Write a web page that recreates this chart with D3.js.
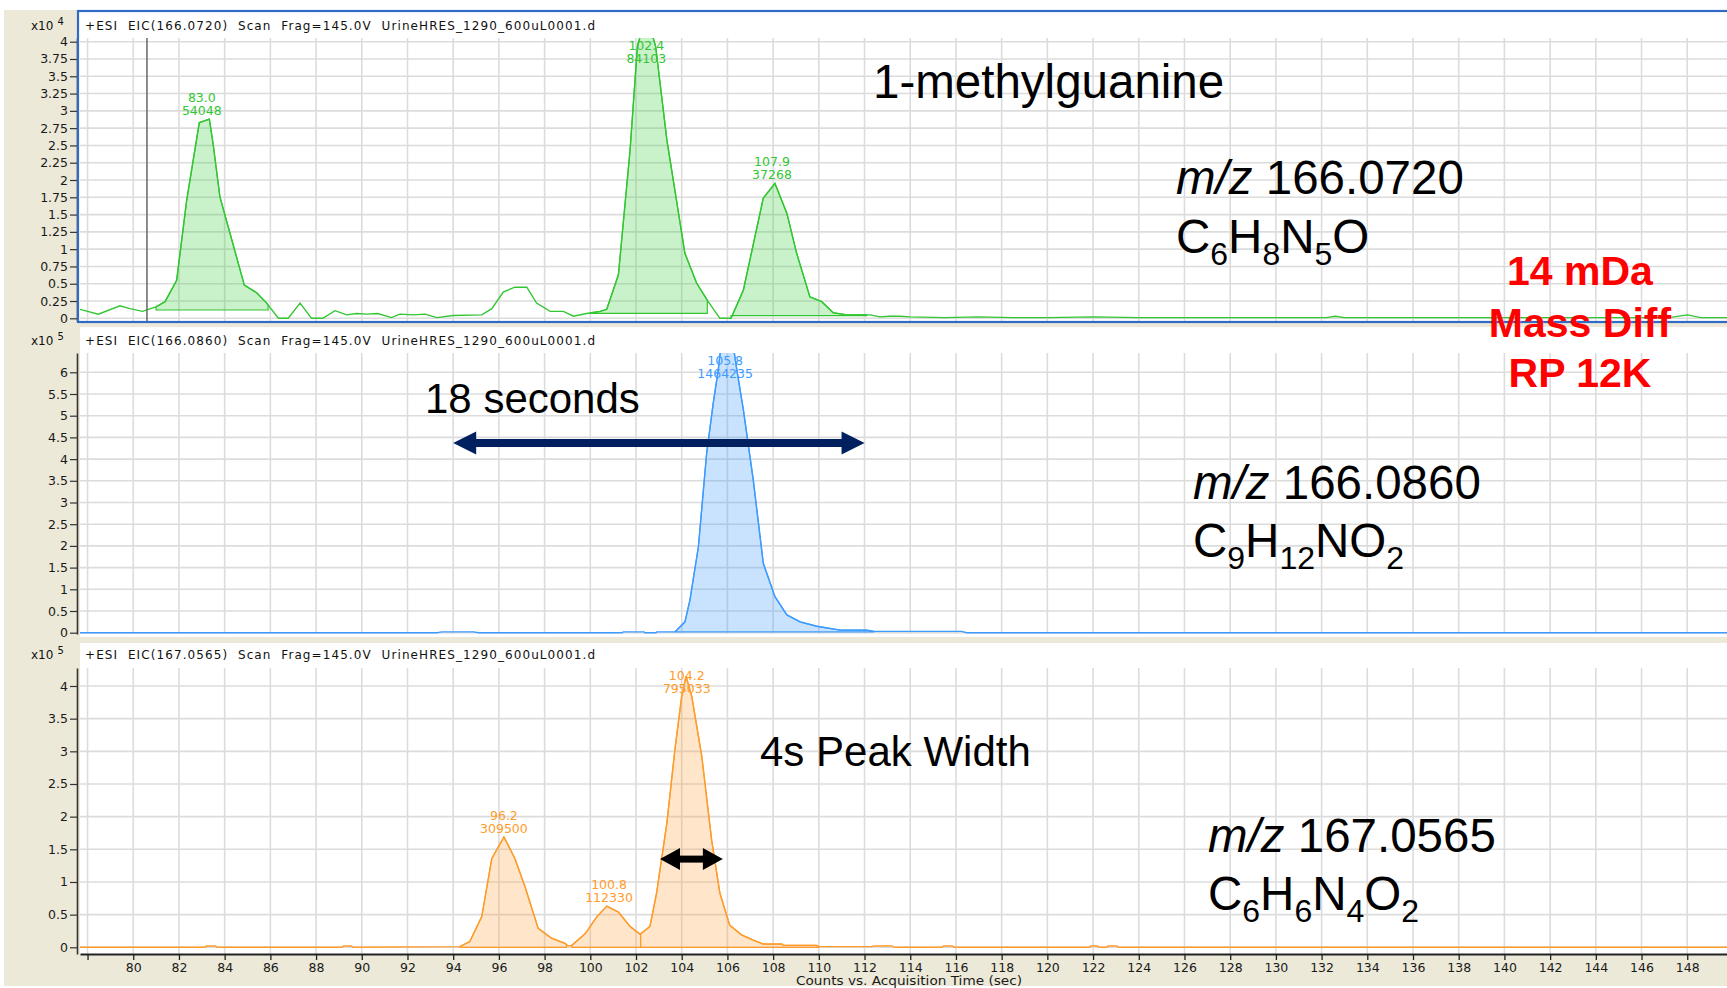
<!DOCTYPE html>
<html>
<head>
<meta charset="utf-8">
<script src="https://cdn.jsdelivr.net/npm/d3@7/dist/d3.min.js"></script>
<style>
    html, body { margin: 0; padding: 0; background: #fff; }
    svg { display: block; }
    text { font-family: "DejaVu Sans", Verdana, sans-serif; }
    .note { font-family: "Liberation Sans", Arial, sans-serif; fill: #000; }
</style>
</head>
<body>
<svg id="chart" width="1727" height="988"></svg>
<script>
// ---- data ----
const xTicks = [78, 80, 82, 84, 86, 88, 90, 92, 94, 96, 98, 100, 102, 104, 106, 108, 110, 112,
    114, 116, 118, 120, 122, 124, 126, 128, 130, 132, 134, 136, 138, 140, 142, 144, 146, 148];
const topTicks = [0, 0.25, 0.5, 0.75, 1, 1.25, 1.5, 1.75, 2, 2.25, 2.5, 2.75, 3, 3.25, 3.5, 3.75, 4];
const midTicks = [0, 0.5, 1, 1.5, 2, 2.5, 3, 3.5, 4, 4.5, 5, 5.5, 6];
const botTicks = [0, 0.5, 1, 1.5, 2, 2.5, 3, 3.5, 4];

// EIC 166.0720 (x10^4 counts)
const greenTime = [77.67, 78.47, 79.42, 79.85, 80.41, 81.02, 81.39, 81.9, 82.34, 82.89, 83.33, 83.5, 83.79,
    84.86, 85.4, 85.84, 86.35, 86.78, 87.3, 87.8, 88.3, 88.83, 89.34, 89.78, 90.2, 90.7, 91.3, 91.67,
    92.25, 92.77, 93.28, 94.0, 95.25, 95.69, 96.19, 96.7, 97.22, 97.65, 98.24, 98.82, 99.26, 99.84,
    100.43, 100.72, 101.23, 101.74, 102.06, 102.45, 102.86, 103.35, 104.14, 104.65, 105.16, 105.67,
    106.16, 106.7, 107.57, 108.08, 108.6, 109.03, 109.61, 110.13, 110.63, 111.22, 112.24, 112.67,
    113.1, 113.55, 114.0, 115.5, 117.0, 118.5, 120.0, 122.0, 124.0, 126.0, 128.0, 130.0, 132.2, 132.6,
    133.0, 135.0, 138.0, 141.0, 144.0, 147.2, 148.0, 148.6, 149.8];
const greenCounts = [0.13, 0.06, 0.18, 0.14, 0.10, 0.17, 0.24, 0.55, 1.71, 2.83, 2.88, 2.51, 1.76,
    0.48, 0.37, 0.22, 0, 0, 0.22, 0, 0, 0.11, 0.05, 0.07, 0.06, 0.07, 0.01, 0.06,
    0.05, 0.06, 0.01, 0.04, 0.05, 0.14, 0.38, 0.45, 0.45, 0.22, 0.10, 0.10, 0.03, 0.07,
    0.10, 0.13, 0.63, 2.43, 3.93, 4.4, 3.93, 2.58, 0.94, 0.51, 0.24, 0,
    0, 0.41, 1.74, 1.95, 1.52, 0.94, 0.31, 0.24, 0.08, 0.05, 0.05, 0.02,
    0.03, 0.03, 0.02, 0.01, 0.02, 0.01, 0.01, 0.02, 0.01, 0.01, 0.01, 0.01, 0.01, 0.03,
    0.01, 0.01, 0.01, 0.01, 0.01, 0.01, 0.05, 0.01, 0.01];
const greenPeaks = [
    { start: 81.0, end: 85.9, base: 0.12 },
    { start: 100.0, end: 105.12, base: 0.07 },
    { start: 106.16, end: 112.1, base: 0.04 }
];
const greenLabels = [
    { t: 83.0, rt: "83.0", area: "54048" },
    { t: 102.45, rt: "102.4", area: "84103" },
    { t: 107.95, rt: "107.9", area: "37268" }
];

// EIC 166.0860 (x10^5 counts)
const blueTime = [77.67, 93.3, 93.5, 94.9, 95.1, 101.4, 101.44, 102.35, 102.39, 102.88, 102.91, 103.71,
    104.14, 104.36, 104.73, 105.09, 105.38, 105.6, 105.95, 106.41, 106.7, 107.13, 107.57, 108.08,
    108.6, 109.18, 109.9, 110.93, 112.1, 112.39, 116.25, 116.47, 149.8];
const blueCounts = [0, 0, 0.02, 0.02, 0, 0, 0.02, 0.02, 0, 0, 0.02, 0.02,
    0.25, 0.75, 1.98, 4.13, 5.29, 6.06, 7.7, 6.06, 5.13, 3.52, 1.6, 0.83,
    0.41, 0.25, 0.15, 0.06, 0.06, 0.03, 0.03, 0, 0];
const bluePeaks = [{ start: 103.7, end: 112.4, base: 0.02 }];
const blueLabels = [{ t: 105.9, rt: "105.8", area: "1464235" }];

// EIC 167.0565 (x10^5 counts)
const orangeTime = [77.67, 83.15, 83.2, 83.6, 83.65, 89.15, 89.2, 89.55, 89.6, 94.29, 94.73, 95.25, 95.69,
    96.22, 96.7, 97.14, 97.72, 98.3, 98.89, 99.04, 99.19, 99.78, 100.29, 100.72, 101.23, 101.74,
    102.18, 102.61, 102.9, 103.35, 103.7, 104.0, 104.19, 104.44, 104.88, 105.31, 105.67, 106.1,
    106.62, 107.13, 107.57, 108.38, 108.45, 109.9, 110.0, 112.3, 112.4, 113.2, 113.3, 115.4, 115.45,
    115.85, 115.9, 121.85, 121.9, 122.2, 122.25, 122.6, 122.65, 123.05, 123.1, 149.8];
const orangeCounts = [0, 0, 0.02, 0.02, 0, 0, 0.02, 0.02, 0, 0.01, 0.09, 0.47, 1.36,
    1.69, 1.36, 0.93, 0.29, 0.14, 0.06, 0.02, 0.03, 0.21, 0.47, 0.63, 0.54, 0.32,
    0.2, 0.32, 0.83, 1.9, 3.02, 3.84, 4.15, 3.84, 2.92, 1.64, 0.83, 0.34,
    0.19, 0.11, 0.05, 0.05, 0.03, 0.03, 0.01, 0.01, 0.02, 0.02, 0, 0, 0.02,
    0.02, 0, 0, 0.02, 0.02, 0, 0, 0.02, 0.02, 0, 0];
const orangePeaks = [
    { start: 94.3, end: 98.96, base: 0 },
    { start: 99.18, end: 102.2, base: 0 },
    { start: 102.2, end: 110.0, base: 0 }
];
const orangeLabels = [
    { t: 96.22, rt: "96.2", area: "309500" },
    { t: 100.82, rt: "100.8", area: "112330" },
    { t: 104.22, rt: "104.2", area: "795033" }
];

const cursorTime = 80.6;

// ---- drawing ----
const svg = d3.select("#chart");
const W = 1727, H = 988;

svg.append("rect").attr("width", W).attr("height", H).attr("fill", "#fff");
svg.append("rect").attr("x", 4).attr("y", 10).attr("width", W - 4).attr("height", 976).attr("fill", "#ece9d8");

const x = d3.scaleLinear().domain([77.67, 149.74]).range([80, 1727]);

const panels = [
    {
        id: "p1", bgY: 11, bgH: 311, plotTop: 38, plotBottom: 321, zeroY: 318.3, refVal: 4, refY: 41.7,
        ticks: topTicks, exp: "4", titleY: 30,
        title: "+ESI  EIC(166.0720)  Scan  Frag=145.0V  UrineHRES_1290_600uL0001.d",
        time: greenTime, vals: greenCounts, peaks: greenPeaks, labels: greenLabels,
        line: "#33c633", fill: "#3fcf3f"
    },
    {
        id: "p2", bgY: 327, bgH: 310, plotTop: 353, plotBottom: 634, zeroY: 632.7, refVal: 6, refY: 372.3,
        ticks: midTicks, exp: "5", titleY: 345,
        title: "+ESI  EIC(166.0860)  Scan  Frag=145.0V  UrineHRES_1290_600uL0001.d",
        time: blueTime, vals: blueCounts, peaks: bluePeaks, labels: blueLabels,
        line: "#3d9bff", fill: "#3d9bff"
    },
    {
        id: "p3", bgY: 643, bgH: 311, plotTop: 668, plotBottom: 954, zeroY: 947.3, refVal: 4, refY: 686,
        ticks: botTicks, exp: "5", titleY: 659,
        title: "+ESI  EIC(167.0565)  Scan  Frag=145.0V  UrineHRES_1290_600uL0001.d",
        time: orangeTime, vals: orangeCounts, peaks: orangePeaks, labels: orangeLabels,
        line: "#ff9b2a", fill: "#ffa040"
    }
];

function interp(ts, vs, t) {
    const i = d3.bisectLeft(ts, t);
    if (i <= 0) return vs[0];
    if (i >= ts.length) return vs[vs.length - 1];
    return vs[i - 1] + (vs[i] - vs[i - 1]) * (t - ts[i - 1]) / (ts[i] - ts[i - 1]);
}

function sliceTrace(ts, vs, a, b) {
    const pts = [[a, interp(ts, vs, a)]];
    ts.forEach((t, i) => { if (t > a && t < b) pts.push([t, vs[i]]); });
    pts.push([b, interp(ts, vs, b)]);
    return pts;
}

panels.forEach(p => {
    const y = d3.scaleLinear().domain([0, p.refVal]).range([p.zeroY, p.refY]);
    y.domain([y.invert(p.plotBottom), y.invert(p.plotTop)]).range([p.plotBottom, p.plotTop]);
    p.y = y;

    const g = svg.append("g").attr("class", p.id);

    g.append("rect")
        .attr("x", p.id === "p1" ? 78 : 80).attr("y", p.bgY)
        .attr("width", W).attr("height", p.bgH)
        .attr("fill", "#fff");

    g.append("clipPath").attr("id", "clip-" + p.id)
        .append("rect")
        .attr("x", 80).attr("y", p.plotTop)
        .attr("width", W - 80).attr("height", p.plotBottom - p.plotTop);

    const plot = g.append("g").attr("clip-path", `url(#clip-${p.id})`);

    // grid
    plot.append("g").selectAll("line")
        .data(p.ticks)
        .join("line")
        .attr("x1", 80).attr("x2", W)
        .attr("y1", d => y(d)).attr("y2", d => y(d))
        .attr("stroke", "#dcdcdc").attr("stroke-width", 1.6);
    plot.append("g").selectAll("line")
        .data(xTicks)
        .join("line")
        .attr("x1", d => x(d)).attr("x2", d => x(d))
        .attr("y1", p.plotTop).attr("y2", p.plotBottom)
        .attr("stroke", "#dcdcdc").attr("stroke-width", 1.6);

    // integrated peak areas
    p.peaks.forEach(pk => {
        const pts = sliceTrace(p.time, p.vals, pk.start, pk.end);
        const area = d3.area()
            .x(d => x(d[0]))
            .y0(y(pk.base))
            .y1(d => y(d[1]));
        plot.append("path")
            .attr("d", area(pts))
            .attr("fill", p.fill).attr("fill-opacity", 0.28)
            .attr("stroke", p.line).attr("stroke-width", 1.2);
    });

    // trace
    const line = d3.line().x((d, i) => x(p.time[i])).y(d => y(d));
    plot.append("path")
        .attr("d", line(p.vals))
        .attr("fill", "none")
        .attr("stroke", p.line).attr("stroke-width", 1.4);

    if (p.id === "p1") {
        plot.append("line")
            .attr("x1", x(cursorTime)).attr("x2", x(cursorTime))
            .attr("y1", p.plotTop).attr("y2", p.plotBottom)
            .attr("stroke", "#666").attr("stroke-width", 1.5);
    }

    // peak labels
    p.labels.forEach(lb => {
        const apex = d3.max(p.time.map((t, i) => Math.abs(t - lb.t) < 0.6 ? p.vals[i] : -1));
        const by = Math.max(y(apex) - 4, p.plotTop + 25);
        const lt = g.append("text")
            .attr("text-anchor", "middle")
            .attr("fill", p.line)
            .style("font-size", "12.5px");
        lt.append("tspan").attr("x", x(lb.t)).attr("y", by - 13).text(lb.rt);
        lt.append("tspan").attr("x", x(lb.t)).attr("y", by).text(lb.area);
    });

    // y axis
    const yAxis = g.append("g")
        .attr("transform", "translate(77,0)")
        .call(d3.axisLeft(y).tickValues(p.ticks).tickSize(7).tickSizeOuter(0).tickPadding(2)
            .tickFormat(d3.format("~g")));
    yAxis.select(".domain").attr("stroke", "#333").attr("stroke-width", 1.6);
    yAxis.selectAll(".tick line").attr("stroke", "#333").attr("stroke-width", 1.2);
    yAxis.selectAll(".tick text")
        .attr("fill", "#1a1a1a")
        .style("font-family", "'DejaVu Sans', Verdana, sans-serif")
        .style("font-size", "12.5px");

    // header
    g.append("text")
        .attr("x", 85).attr("y", p.titleY)
        .attr("fill", "#111")
        .attr("textLength", 510).attr("lengthAdjust", "spacing")
        .style("font-size", "12px")
        .style("white-space", "pre")
        .text(p.title);
    const ex = g.append("text").attr("x", 31).attr("y", p.titleY).attr("fill", "#111").style("font-size", "12px");
    ex.append("tspan").text("x10");
    ex.append("tspan").attr("dx", 4).attr("dy", -5).style("font-size", "10px").text(p.exp);
});

// selected-panel border
svg.append("rect")
    .attr("x", 78).attr("y", 11)
    .attr("width", W).attr("height", 311)
    .attr("fill", "none")
    .attr("stroke", "#316ac5").attr("stroke-width", 2.2);

// x axis
const xAxis = svg.append("g")
    .attr("transform", "translate(0,954)")
    .call(d3.axisBottom(x).tickValues(xTicks).tickSize(6).tickSizeOuter(0).tickPadding(3)
        .tickFormat(d => d === 78 ? "" : d));
xAxis.select(".domain").attr("stroke", "#222").attr("stroke-width", 1.8);
xAxis.selectAll(".tick line").attr("stroke", "#222").attr("stroke-width", 1.3);
xAxis.selectAll(".tick text")
    .attr("fill", "#1a1a1a")
    .style("font-family", "'DejaVu Sans', Verdana, sans-serif")
    .style("font-size", "12.5px");

svg.append("text")
    .attr("x", 796).attr("y", 985)
    .attr("fill", "#1a1a1a")
    .attr("textLength", 226).attr("lengthAdjust", "spacingAndGlyphs")
    .style("font-size", "12px")
    .text("Counts vs. Acquisition Time (sec)");

// ---- annotations ----
const notes = svg.append("g");

function doubleArrow(x1, x2, yy, color, lw, hl, hw) {
    notes.append("line")
        .attr("x1", x1 + hl - 1).attr("x2", x2 - hl + 1)
        .attr("y1", yy).attr("y2", yy)
        .attr("stroke", color).attr("stroke-width", lw);
    notes.append("path").attr("d", `M${x1},${yy}L${x1 + hl},${yy - hw}L${x1 + hl},${yy + hw}Z`).attr("fill", color);
    notes.append("path").attr("d", `M${x2},${yy}L${x2 - hl},${yy - hw}L${x2 - hl},${yy + hw}Z`).attr("fill", color);
}

function formula(tx, ty, str, size) {
    const t = notes.append("text").attr("class", "note").attr("x", tx).attr("y", ty).style("font-size", size + "px");
    let shifted = false;
    str.split(/(\d+)/).filter(s => s.length).forEach(part => {
        const isSub = /^\d+$/.test(part);
        const ts = t.append("tspan").text(part);
        if (isSub && !shifted) { ts.attr("dy", 12).style("font-size", Math.round(size * 0.67) + "px"); shifted = true; }
        else if (!isSub && shifted) { ts.attr("dy", -12); shifted = false; }
        else if (isSub) ts.style("font-size", Math.round(size * 0.67) + "px");
    });
}

function mz(tx, ty, value) {
    const t = notes.append("text").attr("class", "note").attr("x", tx).attr("y", ty).style("font-size", "47.5px");
    t.append("tspan").style("font-style", "italic").text("m/z");
    t.append("tspan").text(" " + value);
}

notes.append("text").attr("class", "note").attr("x", 873).attr("y", 98)
    .style("font-size", "47.5px").text("1-methylguanine");

mz(1176, 194, "166.0720");
formula(1176, 253, "C6H8N5O", 47.5);
mz(1193, 499, "166.0860");
formula(1193, 557, "C9H12NO2", 47.5);
mz(1208, 852, "167.0565");
formula(1208, 910, "C6H6N4O2", 47.5);

const red = notes.append("text")
    .attr("text-anchor", "middle")
    .attr("fill", "#ff0000")
    .style("font-family", "'Liberation Sans', Arial, sans-serif")
    .style("font-weight", "bold")
    .style("font-size", "41px");
red.append("tspan").attr("x", 1580).attr("y", 285).text("14 mDa");
red.append("tspan").attr("x", 1580).attr("y", 337).text("Mass Diff");
red.append("tspan").attr("x", 1580).attr("y", 387).text("RP 12K");

notes.append("text").attr("class", "note").attr("x", 425).attr("y", 413)
    .style("font-size", "42px").text("18 seconds");
doubleArrow(x(94.0), x(112.0), panels[1].y(4.37), "#002060", 8, 23, 11.5);

notes.append("text").attr("class", "note").attr("x", 760).attr("y", 766)
    .style("font-size", "42px").text("4s Peak Width");
doubleArrow(x(103.05), x(105.8), panels[2].y(1.35), "#000", 7, 20, 11);
</script>
</body>
</html>
